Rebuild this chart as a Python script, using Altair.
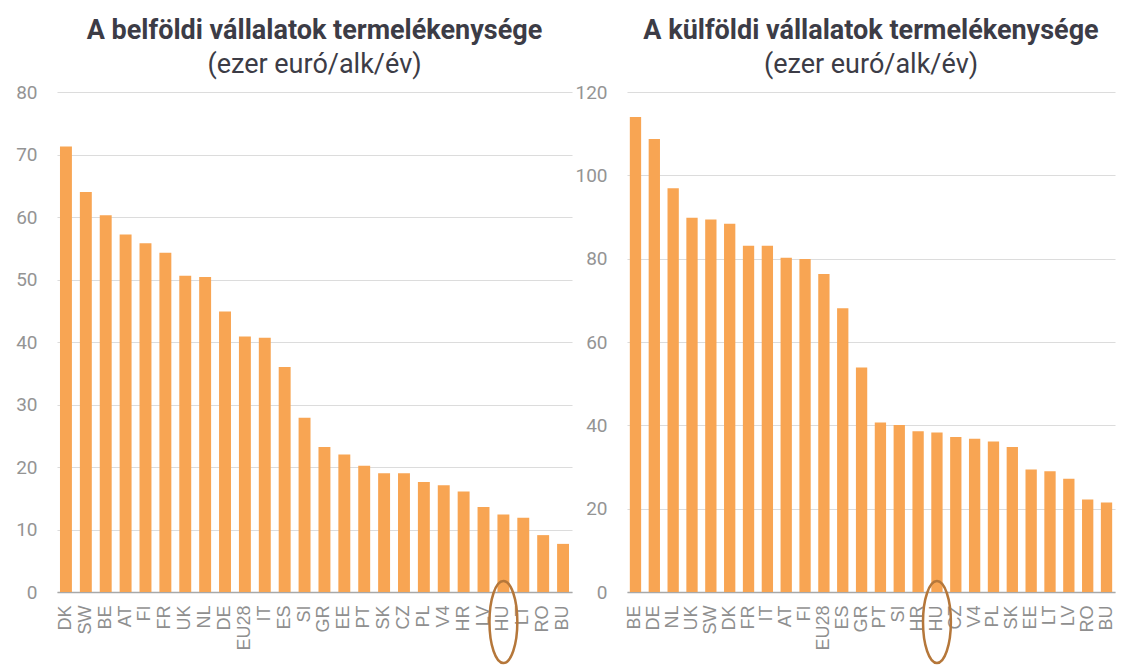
import altair as alt
import pandas as pd

dom_countries = ["DK", "SW", "BE", "AT", "FI", "FR", "UK", "NL", "DE", "EU28", "IT", "ES", "SI",
                 "GR", "EE", "PT", "SK", "CZ", "PL", "V4", "HR", "LV", "HU", "LT", "RO", "BU"]
dom_values = [71.3, 64.0, 60.3, 57.2, 55.8, 54.3, 50.6, 50.4, 44.9, 40.9, 40.7, 36.0, 27.9,
              23.2, 22.0, 20.2, 19.0, 19.0, 17.6, 17.1, 16.1, 13.6, 12.4, 11.9, 9.1, 7.7]

for_countries = ["BE", "DE", "NL", "UK", "SW", "DK", "FR", "IT", "AT", "FI", "EU28", "ES", "GR",
                 "PT", "SI", "HR", "HU", "CZ", "V4", "PL", "SK", "EE", "LT", "LV", "RO", "BU"]
for_values = [114.0, 108.7, 96.9, 89.8, 89.4, 88.4, 83.1, 83.1, 80.2, 79.9, 76.3, 68.1, 53.9,
              40.7, 40.1, 38.6, 38.3, 37.2, 36.8, 36.1, 34.8, 29.4, 29.0, 27.2, 22.2, 21.5]

highlight = ["HU"]
subtitle = "(ezer euró/alk/év)"
titles = ["A belföldi vállalatok termelékenysége", "A külföldi vállalatok termelékenysége"]

BAR = "#f8a553"
RING = "#b5773a"
TITLE = "#3c3c46"
H = 500

k = 0.5523
a = 0.34
ELLIPSE = (f"M0,-1 C{k*a:.4f},-1 {a},{-k:.4f} {a},0 C{a},{k:.4f} {k*a:.4f},1 0,1 "
           f"C{-k*a:.4f},1 {-a},{k:.4f} {-a},0 C{-a},{-k:.4f} {-k*a:.4f},-1 0,-1 Z")


def panel(countries, values, ymax, ystep, title, width, extent):
    df = pd.DataFrame({"country": countries, "value": values})
    hl = pd.DataFrame({"country": highlight})
    xenc = alt.X("country:N", sort=countries, title=None,
                 scale=alt.Scale(paddingInner=0.4, paddingOuter=0.15),
                 axis=alt.Axis(labelAngle=-90, labelFont="Liberation Sans", labelFontSize=18,
                               labelColor="#8f8f8f", labelPadding=13, ticks=False,
                               domainColor="#a8a8a8", domainWidth=1.5, grid=False))
    bars = alt.Chart(df).mark_bar(color=BAR).encode(
        x=xenc,
        y=alt.Y("value:Q", title=None,
                scale=alt.Scale(domain=[0, ymax], nice=False),
                axis=alt.Axis(values=list(range(0, ymax + 1, ystep)), labelFont="Roboto",
                              labelFontSize=19, labelColor="#949494", labelPadding=20,
                              ticks=False, domain=False, gridColor="#dcdcdc", gridWidth=1.2,
                              minExtent=extent, maxExtent=extent)),
    )
    ring = alt.Chart(hl).mark_point(shape=ELLIPSE, filled=False, stroke=RING,
                                    strokeWidth=2.5, size=6724, opacity=1).encode(
        x=alt.X("country:N", sort=countries),
        y=alt.value(H + 30),
    )
    return alt.layer(bars, ring).properties(
        width=width, height=H,
        title=alt.TitleParams(text=title, subtitle=subtitle, font="Roboto", fontSize=27,
                              fontWeight="bold", color=TITLE, subtitleFont="Roboto",
                              subtitleFontSize=27, subtitleColor=TITLE,
                              subtitlePadding=7, anchor="middle", frame="group", offset=4),
    )


left = panel(dom_countries, dom_values, 80, 10, titles[0], 515, 40)
right = panel(for_countries, for_values, 120, 20, titles[1], 488, 55)

chart = alt.hconcat(left, right, spacing=0).properties(
    padding={"left": 7, "top": 9, "right": 0, "bottom": 0}
).configure_view(stroke=None)

chart.save("out.html", embed_options={"renderer": "svg", "actions": False})
